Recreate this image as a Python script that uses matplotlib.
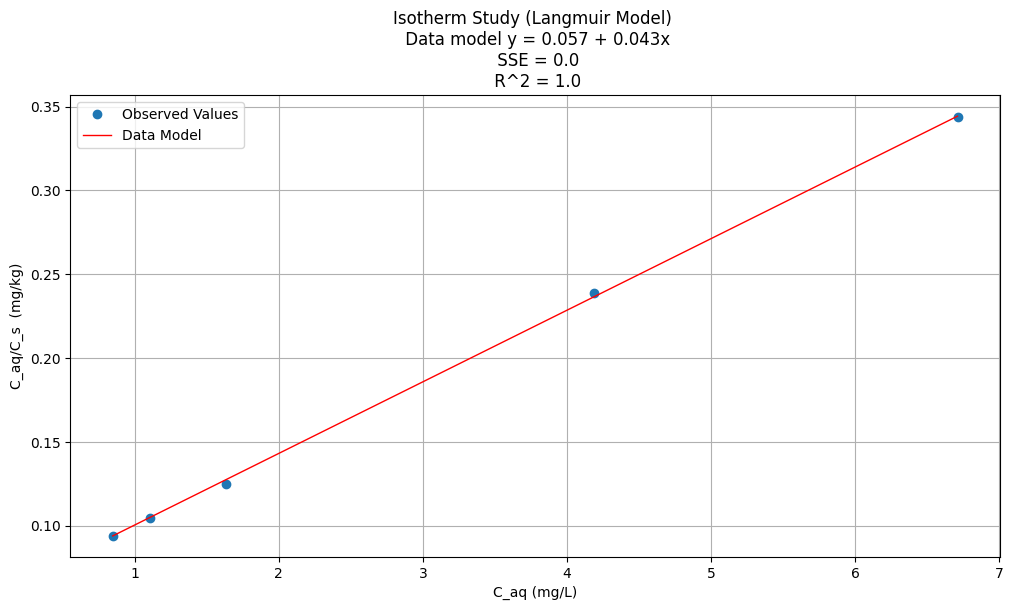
import matplotlib
matplotlib.use("Agg")
import matplotlib.pyplot as plt
import numpy as np

# observed data
c_aq = np.array([0.848, 1.106, 1.633, 4.188, 6.71])
ratio = np.array([0.094, 0.1048, 0.125, 0.239, 0.344])

# fitted model (title shows rounded values)
b0 = 0.0578
b1 = 0.0427
model = b0 + b1 * c_aq

fig, ax = plt.subplots(figsize=(10.14, 6.1), dpi=100)
fig.subplots_adjust(left=0.0695, right=0.986, bottom=0.087, top=0.844)

ax.plot(c_aq, ratio, 'o', label='Observed Values')
ax.plot(c_aq, model, 'r-', lw=1, label='Data Model')

ax.set_title('Isotherm Study (Langmuir Model) \n Data model y = 0.057 + 0.043x\n SSE = 0.0\n R^2 = 1.0')
ax.set_xlabel('C_aq (mg/L)')
ax.set_ylabel('C_aq/C_s  (mg/kg)')
ax.grid(True)
ax.legend(loc='upper left')

fig.savefig('out.png')
